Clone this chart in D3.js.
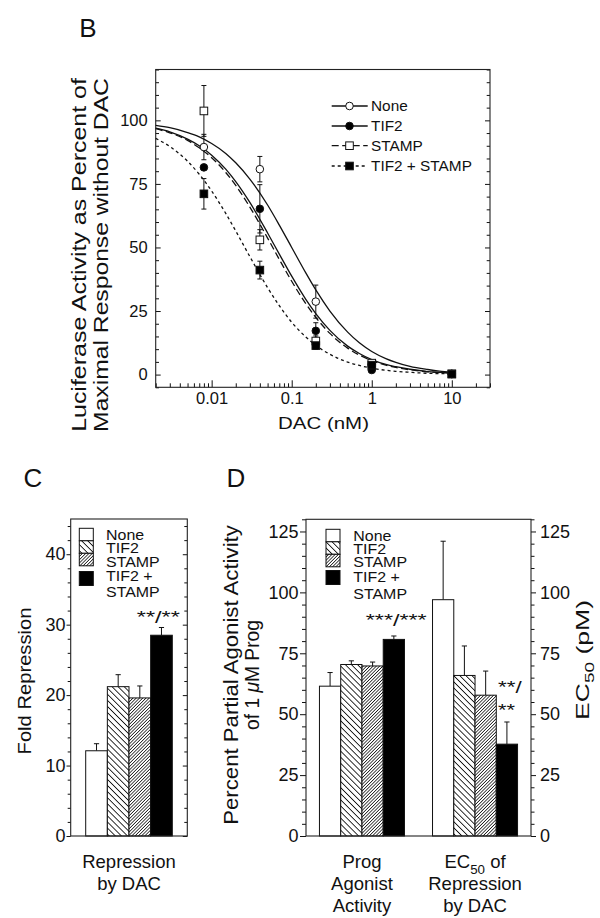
<!DOCTYPE html>
<html><head><meta charset="utf-8">
<script src="https://cdn.jsdelivr.net/npm/d3@7"></script>
<style>
body{margin:0;background:#fff}
svg{display:block}
text{font-family:"Liberation Sans",Arial,Helvetica,sans-serif;fill:#111}
</style>
</head><body>
<svg id="chart" width="600" height="918"></svg>
<script>
// ---------------- DATA ----------------
// Panel B: dose-response (DAC, nM)
const dacDoses = [0.008, 0.04, 0.2, 1, 10];
const seriesNames = ["None", "TIF2", "STAMP", "TIF2 + STAMP"];
const noneMean  = [89.5, 80.8, 28.7, 4.0, 0.3];
const noneErr   = [5.0, 5.0, 6.5, 1.0, 0];
const tif2Mean  = [81.5, 65.2, 17.2, 1.8, 0.2];
const tif2Err   = [0, 9.5, 3.2, 1.0, 0];
const stampMean = [103.7, 53.0, 13.2, 4.5, 0.3];
const stampErr  = [10.0, 4.0, 2.0, 1.0, 0];
const tsMean    = [71.1, 41.1, 11.4, 3.7, 0.2];
const tsErr     = [6.0, 3.5, 1.5, 1.5, 0];
// fitted curves
const fitDoses = [0.002,0.003,0.005,0.007,0.01,0.015,0.02,0.03,0.05,0.07,0.1,0.15,0.2,0.3,0.5,0.7,1,1.5,2,3,5,7,10];
const noneFit  = [98.0,97.1,95.2,93.5,90.9,87.0,83.3,76.9,66.7,58.8,50.0,40.0,33.3,25.0,16.7,12.5,9.1,6.3,4.8,3.2,2.0,1.4,1.0];
const tif2Fit  = [96.9,95.5,92.6,90.0,86.3,80.8,75.9,67.7,55.7,47.4,38.7,29.6,24.0,17.4,11.2,8.3,5.9,4.0,3.1,2.1,1.2,0.9,0.6];
const stampFit = [96.7,95.1,92.1,89.2,85.3,79.5,74.4,65.9,53.7,45.3,36.7,27.9,22.5,16.2,10.4,7.7,5.5,3.7,2.8,1.9,1.1,0.8,0.6];
const tsFit    = [92.9,89.7,83.9,78.8,72.2,63.4,56.5,46.4,34.2,27.1,20.6,14.8,11.5,8.0,4.9,3.6,2.5,1.7,1.3,0.9,0.5,0.4,0.3];
const bXTicks = [0.01, 0.1, 1, 10];
const bYTicks = [0, 25, 50, 75, 100];

// Panel C: fold repression
const barGroups = ["None", "TIF2", "STAMP", "TIF2 + STAMP"];
const foldRepression    = [12.1, 21.2, 19.6, 28.5];
const foldRepressionErr = [1.0, 1.7, 1.7, 1.1];
const cYTicks = [0, 10, 20, 30, 40];

// Panel D: agonist activity (left axis) and EC50 (right axis)
const dCategories = ["Prog Agonist Activity", "EC50 of Repression by DAC"];
const agonistActivity = [61.5, 70.4, 69.8, 80.7];
const agonistErr      = [5.6, 1.5, 1.6, 1.4];
const ec50Values      = [97.0, 65.9, 57.8, 37.7];
const ec50Err         = [24.0, 12.1, 9.9, 9.1];
const dYTicks = [0, 25, 50, 75, 100, 125];

// ---------------- SETUP ----------------
const svg = d3.select("#chart");
const defs = svg.append("defs");
const INK = "#111";

function hatch(id, angle, spacing, sw) {
  const p = defs.append("pattern").attr("id", id)
    .attr("patternUnits", "userSpaceOnUse")
    .attr("width", spacing).attr("height", spacing)
    .attr("patternTransform", `rotate(${angle})`);
  p.append("rect").attr("width", spacing).attr("height", spacing).attr("fill", "#fff");
  p.append("line").attr("x1", spacing/2).attr("x2", spacing/2)
    .attr("y1", -1).attr("y2", spacing + 1)
    .attr("stroke", INK).attr("stroke-width", sw);
}
hatch("h-tif2", -45, 4.3, 0.9);
hatch("h-stamp", 45, 2.3, 0.75);
const barFill = ["#fff", "url(#h-tif2)", "url(#h-stamp)", "#000"];

// text helper: parts = string or array of {t, sub, it}
function txt(parent, parts, x, y, o) {
  const size = o.size || 16;
  const t = parent.append("text")
    .attr("font-size", size)
    .attr("text-anchor", o.anchor || "middle");
  if (typeof parts === "string") parts = [{t: parts}];
  let shifted = 0;
  parts.forEach(p => {
    const s = t.append("tspan").text(p.t);
    if (p.sub) { s.attr("font-size", size * 0.72).attr("dy", size * 0.3 - shifted); shifted = size * 0.3; }
    else if (shifted) { s.attr("dy", -shifted); shifted = 0; }
    if (p.it) s.attr("font-style", "italic");
  });
  let k = o.sx || 1;
  if (o.len) {
    const w = t.node().getComputedTextLength();
    if (w > 0) k = o.len / w;
  }
  t.attr("transform", `translate(${x},${y})` + (o.rot ? ` rotate(${o.rot})` : "") + (k !== 1 ? ` scale(${k},1)` : ""));
  return t;
}

function styleAxis(g) {
  g.select(".domain").remove();
  g.selectAll(".tick line").attr("stroke", INK).attr("stroke-width", 1);
  g.selectAll(".tick text").attr("fill", INK);
}

// ================= PANEL B =================
const bX = d3.scaleLog().domain([0.002, 30]).range([155.7, 490]);
const bY = d3.scaleLinear().domain([-5, 120]).range([387.3, 69.5]);
const gB = svg.append("g");

txt(gB, "B", 88, 37, {size: 26});

const bYMinor = d3.range(-5, 121, 5).filter(v => !bYTicks.includes(v));
const bXMinor = bX.ticks().filter(v => !bXTicks.some(m => Math.abs(m - v) < 1e-9));

gB.append("g").attr("transform", "translate(155.7,0)")
  .call(d3.axisLeft(bY).tickValues(bYTicks).tickSize(-5).tickPadding(8).tickFormat(d3.format("d")))
  .call(styleAxis).call(g => g.selectAll("text").attr("font-size", 16.5).attr("font-family", null));
gB.append("g").attr("transform", "translate(155.7,0)")
  .call(d3.axisLeft(bY).tickValues(bYMinor).tickSize(-3.3).tickFormat(""))
  .call(styleAxis);
gB.append("g").attr("transform", "translate(490,0)")
  .call(d3.axisRight(bY).tickValues(bYTicks).tickSize(-5).tickFormat(""))
  .call(styleAxis);
gB.append("g").attr("transform", "translate(490,0)")
  .call(d3.axisRight(bY).tickValues(bYMinor).tickSize(-3.3).tickFormat(""))
  .call(styleAxis);
gB.append("g").attr("transform", "translate(0,387.3)")
  .call(d3.axisBottom(bX).tickValues(bXTicks).tickSize(-7).tickPadding(5).tickFormat(d => String(d)))
  .call(styleAxis).call(g => g.selectAll("text").attr("font-size", 16.5).attr("font-family", null));
gB.append("g").attr("transform", "translate(0,387.3)")
  .call(d3.axisBottom(bX).tickValues(bXMinor).tickSize(-4).tickFormat(""))
  .call(styleAxis);

gB.append("rect").attr("x", 155.7).attr("y", 69.5).attr("width", 490 - 155.7).attr("height", 387.3 - 69.5)
  .attr("fill", "none").attr("stroke", "#222").attr("stroke-width", 1.1);

const bSeries = [
  {name: seriesNames[0], mean: noneMean,  err: noneErr,  fit: noneFit,  dash: null,  shape: "circle", filled: false},
  {name: seriesNames[1], mean: tif2Mean,  err: tif2Err,  fit: tif2Fit,  dash: null,  shape: "circle", filled: true},
  {name: seriesNames[2], mean: stampMean, err: stampErr, fit: stampFit, dash: "7,3.5", shape: "square", filled: false},
  {name: seriesNames[3], mean: tsMean,    err: tsErr,    fit: tsFit,    dash: "3,3", shape: "square", filled: true}
];

const line = d3.line().x(d => bX(d[0])).y(d => bY(d[1])).curve(d3.curveMonotoneX);
bSeries.forEach(s => {
  gB.append("path").datum(fitDoses.map((x, i) => [x, s.fit[i]]))
    .attr("d", line).attr("fill", "none").attr("stroke", INK).attr("stroke-width", 1.3)
    .attr("stroke-dasharray", s.dash);
});
// error bars
bSeries.forEach(s => {
  dacDoses.forEach((x, i) => {
    if (!s.err[i]) return;
    const cx = bX(x), y1 = bY(s.mean[i] + s.err[i]), y0 = bY(s.mean[i] - s.err[i]);
    gB.append("line").attr("x1", cx).attr("x2", cx).attr("y1", y0).attr("y2", y1).attr("stroke", INK).attr("stroke-width", 1);
    [y0, y1].forEach(yy => gB.append("line").attr("x1", cx - 2.5).attr("x2", cx + 2.5).attr("y1", yy).attr("y2", yy).attr("stroke", INK).attr("stroke-width", 1));
  });
});
function marker(g, s, cx, cy) {
  if (s.shape === "circle") {
    g.append("circle").attr("cx", cx).attr("cy", cy).attr("r", 3.8)
      .attr("fill", s.filled ? "#000" : "#fff").attr("stroke", INK).attr("stroke-width", 1);
  } else {
    g.append("rect").attr("x", cx - 3.8).attr("y", cy - 3.8).attr("width", 7.6).attr("height", 7.6)
      .attr("fill", s.filled ? "#000" : "#fff").attr("stroke", INK).attr("stroke-width", 1);
  }
}
bSeries.forEach(s => dacDoses.forEach((x, i) => marker(gB, s, bX(x), bY(s.mean[i]))));

// legend B
const legBRows = [106, 126, 145.7, 166];
bSeries.forEach((s, i) => {
  const y = legBRows[i];
  gB.append("line").attr("x1", 331.7).attr("x2", 367.7).attr("y1", y).attr("y2", y)
    .attr("stroke", INK).attr("stroke-width", 1.3).attr("stroke-dasharray", s.dash);
  marker(gB, s, 349.5, y);
  txt(gB, s.name, 371, y + 5.3, {size: 14.5, anchor: "start", sx: 1.06});
});

txt(gB, "DAC  (nM)", 323.5, 429, {size: 17, len: 91});
txt(gB, "Luciferase Activity as Percent of", 86, 255, {size: 19.5, rot: -90, len: 354});
txt(gB, "Maximal Response without DAC", 107.5, 255, {size: 19.5, rot: -90, len: 354});

// ================= PANEL C =================
const gC = svg.append("g");
const cL = 70.7, cR = 187.3, cT = 519, cB = 836;
const cY = d3.scaleLinear().domain([0, 45]).range([cB, cT]);
const cX = d3.scaleBand().domain(barGroups).range([85.7, 172.3]).padding(0);
const cYMinor = d3.range(0, 46, 2).filter(v => !cYTicks.includes(v));

txt(gC, "C", 33, 486.5, {size: 26});

gC.append("g").attr("transform", `translate(${cL},0)`)
  .call(d3.axisLeft(cY).tickValues(cYTicks).tickSize(4.2).tickPadding(1).tickFormat(d3.format("d")))
  .call(styleAxis).call(g => g.selectAll("text").attr("font-size", 18).attr("font-family", null));
gC.append("g").attr("transform", `translate(${cL},0)`)
  .call(d3.axisLeft(cY).tickValues(cYMinor).tickSize(3).tickFormat(""))
  .call(styleAxis);
gC.append("g").attr("transform", `translate(${cR},0)`)
  .call(d3.axisRight(cY).tickValues(cYTicks).tickSize(-4.5).tickFormat(""))
  .call(styleAxis);
gC.append("g").attr("transform", `translate(${cR},0)`)
  .call(d3.axisRight(cY).tickValues(cYMinor).tickSize(-3).tickFormat(""))
  .call(styleAxis);

function drawBars(g, xScale, offset, values, errs, yScale) {
  values.forEach((v, i) => {
    const x0 = offset + xScale(barGroups[i]), w = xScale.bandwidth(), cx = x0 + w / 2;
    const yTop = yScale(v), yErr = yScale(v + errs[i]);
    g.append("line").attr("x1", cx).attr("x2", cx).attr("y1", yTop).attr("y2", yErr).attr("stroke", INK).attr("stroke-width", 1);
    g.append("line").attr("x1", cx - 2.6).attr("x2", cx + 2.6).attr("y1", yErr).attr("y2", yErr).attr("stroke", INK).attr("stroke-width", 1);
    g.append("rect").attr("x", x0).attr("y", yTop).attr("width", w).attr("height", yScale(0) - yTop)
      .attr("fill", barFill[i]).attr("stroke", INK).attr("stroke-width", 1);
  });
}
drawBars(gC, cX, 0, foldRepression, foldRepressionErr, cY);

gC.append("rect").attr("x", cL).attr("y", cT).attr("width", cR - cL).attr("height", cB - cT)
  .attr("fill", "none").attr("stroke", "#222").attr("stroke-width", 1.1);

function barLegend(g, sx, tx, swTops, swH, textRows) {
  barGroups.forEach((name, i) => {
    g.append("rect").attr("x", sx).attr("y", swTops[i]).attr("width", 14).attr("height", swH[i])
      .attr("fill", barFill[i]).attr("stroke", INK).attr("stroke-width", 1);
  });
  const lines = ["None", "TIF2", "STAMP", "TIF2 +", "STAMP"];
  lines.forEach((l, i) => txt(g, l, tx, textRows[i], {size: 14.5, anchor: "start", sx: 1.1}));
}
barLegend(gC, 79.3, 106, [528.3, 540.8, 553.3, 571.5], [12.5, 12.5, 12.5, 14], [539.5, 553, 566.5, 581, 597]);

txt(gC, "**/**", 158.3, 623, {size: 16, len: 43});
txt(gC, "Repression", 129, 868, {size: 18.5});
txt(gC, "by DAC", 129, 889.5, {size: 18.5});
txt(gC, "Fold Repression", 30.5, 681, {size: 18, rot: -90, len: 147});

// ================= PANEL D =================
const gD = svg.append("g");
const dL = 306, dR = 531, dT = 519.3, dB = 836;
const dY = d3.scaleLinear().domain([0, 130]).range([dB, dT]);
const dOuter = d3.scaleBand().domain(dCategories).range([dL, dR]).paddingInner(0.248).paddingOuter(0.119);
const dInner = d3.scaleBand().domain(barGroups).range([0, dOuter.bandwidth()]).padding(0);
const dYMinor = d3.range(0, 131, 5).filter(v => !dYTicks.includes(v));

txt(gD, "D", 236, 486.5, {size: 26});

gD.append("g").attr("transform", `translate(${dL},0)`)
  .call(d3.axisLeft(dY).tickValues(dYTicks).tickSize(6).tickPadding(1.5).tickFormat(d3.format("d")))
  .call(styleAxis).call(g => g.selectAll("text").attr("font-size", 18).attr("font-family", null));
gD.append("g").attr("transform", `translate(${dL},0)`)
  .call(d3.axisLeft(dY).tickValues(dYMinor).tickSize(4).tickFormat(""))
  .call(styleAxis);
gD.append("g").attr("transform", `translate(${dR},0)`)
  .call(d3.axisRight(dY).tickValues(dYTicks).tickSize(5).tickPadding(4).tickFormat(d3.format("d")))
  .call(styleAxis).call(g => g.selectAll("text").attr("font-size", 18).attr("font-family", null));
gD.append("g").attr("transform", `translate(${dR},0)`)
  .call(d3.axisRight(dY).tickValues(dYMinor).tickSize(3.5).tickFormat(""))
  .call(styleAxis);

drawBars(gD, dInner, dOuter(dCategories[0]), agonistActivity, agonistErr, dY);
drawBars(gD, dInner, dOuter(dCategories[1]), ec50Values, ec50Err, dY);

gD.append("rect").attr("x", dL).attr("y", dT).attr("width", dR - dL).attr("height", dB - dT)
  .attr("fill", "none").attr("stroke", "#222").attr("stroke-width", 1.1);

barLegend(gD, 326, 353.3, [529.3, 541.8, 554.3, 570.5], [12.5, 12.5, 12.5, 14], [540.7, 553.5, 567, 582, 598.5]);

txt(gD, "***/***", 396.2, 626, {size: 16, len: 61});
txt(gD, "**/", 498, 693, {size: 16, anchor: "start", len: 23.7});
txt(gD, "**", 498, 716, {size: 16, anchor: "start", len: 17});

const g1c = dOuter(dCategories[0]) + dOuter.bandwidth() / 2;
const g2c = dOuter(dCategories[1]) + dOuter.bandwidth() / 2;
txt(gD, "Prog", g1c, 868, {size: 18.5});
txt(gD, "Agonist", g1c, 890, {size: 18.5});
txt(gD, "Activity", g1c, 912, {size: 18.5});
txt(gD, [{t: "EC"}, {t: "50", sub: true}, {t: " of"}], g2c, 868, {size: 18.5});
txt(gD, "Repression", g2c, 890, {size: 18.5});
txt(gD, "by DAC", g2c, 912, {size: 18.5});

txt(gD, "Percent Partial Agonist Activity", 237.5, 675, {size: 19.5, rot: -90, len: 300});
txt(gD, [{t: "of 1 "}, {t: "\u03BC", it: true}, {t: "M Prog"}], 258.5, 675, {size: 19.5, rot: -90, len: 110});
txt(gD, [{t: "EC"}, {t: "50", sub: true}, {t: " (pM)"}], 589, 660, {size: 18, rot: -90, len: 120});
</script>
</body></html>
